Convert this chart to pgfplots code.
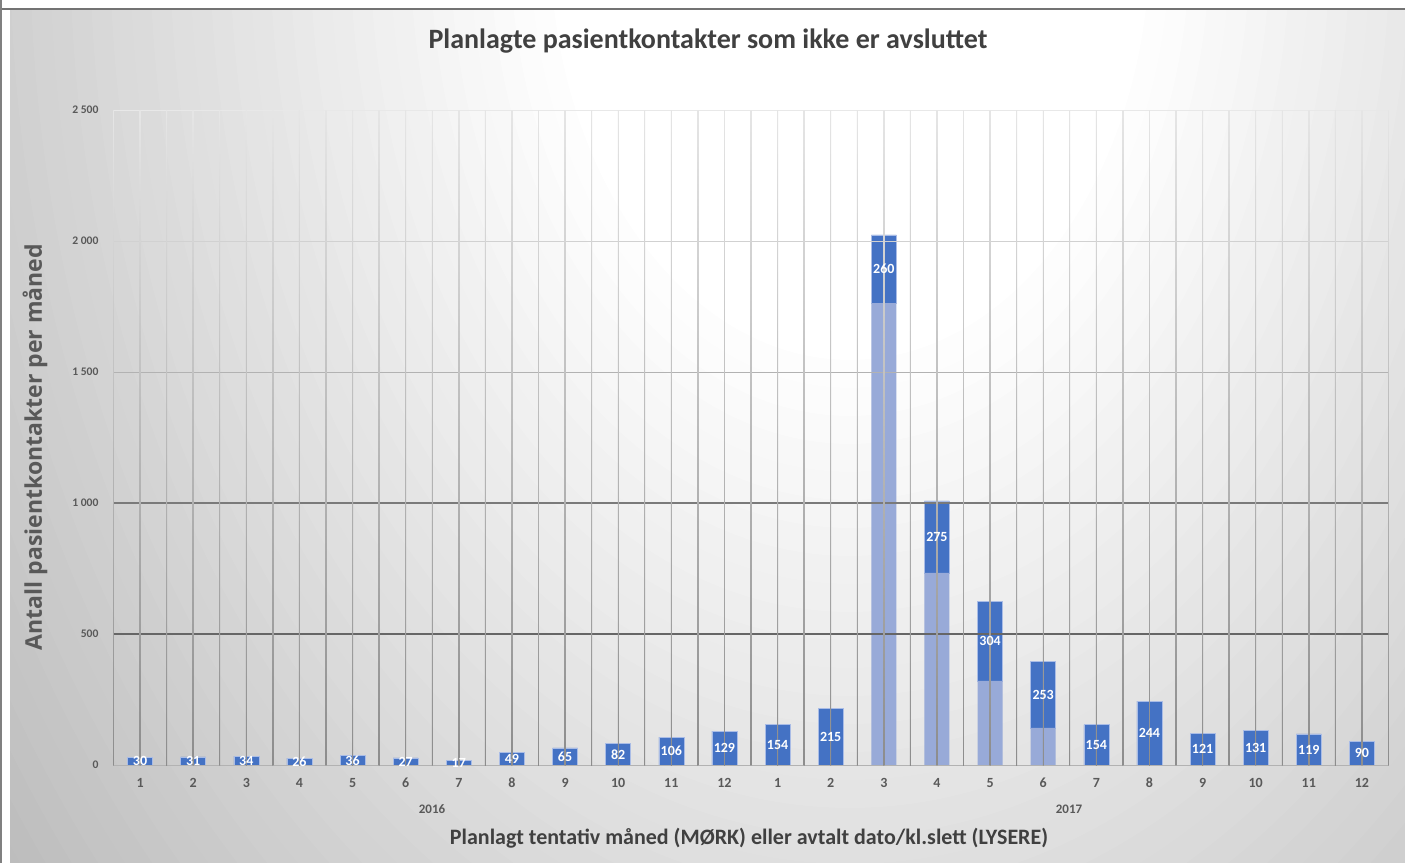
\documentclass[border=0pt]{standalone}
\usepackage{fontspec}
\setmainfont{Carlito}
\newfontfamily\ylabfont{Open Sans}
\usepackage{pgfplots}
\usepackage{pgfplotstable}
\pgfplotsset{compat=1.18}
\definecolor{darkbar}{HTML}{4472C4}
\definecolor{lightbar}{HTML}{98AAD8}
\definecolor{baredge}{HTML}{A9BCE6}
\definecolor{txt}{HTML}{404040}
\definecolor{tickc}{HTML}{595959}

\pgfplotstableread{
x light dark
0 0 30
1 0 31
2 0 34
3 0 26
4 0 36
5 0 27
6 0 17
7 0 49
8 0 65
9 0 82
10 0 106
11 0 129
12 0 154
13 0 215
14 1763 260
15 733 275
16 321 304
17 142 253
18 0 154
19 0 244
20 0 121
21 0 131
22 0 119
23 0 90
}\data

\begin{document}
\begin{tikzpicture}[x=0.5pt,y=-0.5pt]
\useasboundingbox (0,0) rectangle (1405,863);
\fill[white] (0,0) rectangle (1405,863);
\begin{scope}
\clip (10,10) rectangle (1405,863);
\fill[black!27] (10,10) rectangle (1405,863);
\foreach \i in {0,...,40} {
  \pgfmathsetmacro\r{1100-20*\i}
  \pgfmathsetmacro\g{max(0,min(27,(\r-300)/30))}
  \pgfmathsetmacro\rx{\r*0.5}
  \pgfmathsetmacro\ry{\r*0.7}
  \fill[black!\g] (850,-60) ellipse [x radius=\rx pt, y radius=\ry pt];
}
\end{scope}
\fill[black!50] (0,0) rectangle (2,863);
\fill[black!55] (2,7.5) rectangle (1405,9.5);

\coordinate (orig) at (113.5,765);

\begin{axis}[
  at={(orig)}, anchor=south west,
  scale only axis, width=637.5pt, height=327.5pt,
  xmin=-0.5, xmax=23.5, ymin=0, ymax=2500,
  axis line style={draw=none},
  major tick length=0pt,
  ybar stacked, bar width=12.5pt,
  xtick={0,...,23},
  xticklabels={1,2,3,4,5,6,7,8,9,10,11,12,1,2,3,4,5,6,7,8,9,10,11,12},
  xticklabel style={font=\bfseries\fontsize{7}{8}\selectfont, text=tickc, yshift=-3pt},
  ytick={0,500,1000,1500,2000,2500},
  yticklabel style={font=\bfseries\fontsize{5.8}{7}\selectfont, text=tickc, xshift=-4pt},
  /pgf/number format/.cd, assume math mode=true, 1000 sep={\ },
]
\pgfplotsinvokeforeach{-0.5,0,...,23.5}{
  \shade[bottom color=black!45, top color=black!10] ([xshift=-0.22pt]axis cs:#1,0) rectangle ([xshift=0.22pt]axis cs:#1,2500);
}
\draw[black!30, line width=0.45pt] (axis cs:-0.5,0) -- (axis cs:23.5,0);
\draw[black!60, line width=0.55pt] (axis cs:-0.5,500) -- (axis cs:23.5,500);
\draw[black!52, line width=0.55pt] (axis cs:-0.5,1000) -- (axis cs:23.5,1000);
\draw[black!30, line width=0.45pt] (axis cs:-0.5,1500) -- (axis cs:23.5,1500);
\draw[black!18, line width=0.45pt] (axis cs:-0.5,2000) -- (axis cs:23.5,2000);
\draw[black!9, line width=0.45pt] (axis cs:-0.5,2500) -- (axis cs:23.5,2500);
\addplot[fill=lightbar, draw=none] table[x=x,y=light]{\data};
\addplot[fill=darkbar, draw=baredge, line width=0.3pt] table[x=x,y=dark]{\data};
\pgfplotsinvokeforeach{0,...,23}{
  \draw[black, opacity=0.18, line width=0.4pt] (axis cs:#1,0) -- (axis cs:#1,2500);
}
\end{axis}

\begin{axis}[
  at={(orig)}, anchor=south west,
  scale only axis, width=637.5pt, height=327.5pt,
  xmin=-0.5, xmax=23.5, ymin=0, ymax=2500,
  hide axis, clip=false,
  /pgf/number format/assume math mode=true,
]
\addplot[only marks, mark=*, mark size=0pt, mark options={draw=none, fill=none},
  nodes near coords, point meta=explicit,
  nodes near coords style={anchor=center, inner sep=0pt, font=\bfseries\fontsize{7}{8}\selectfont, text=white}]
  table[x=x, y expr=\thisrow{light}+0.5*\thisrow{dark}, meta=dark]{\data};
\end{axis}

\node[font=\bfseries\fontsize{14}{16}\selectfont, text=txt] at (708,41) {Planlagte pasientkontakter som ikke er avsluttet};
\node[rotate=90, font=\ylabfont\bfseries\fontsize{11.5}{14}\selectfont, text=tickc] at (35,447) {Antall pasientkontakter per måned};
\node[font=\bfseries\fontsize{11}{13}\selectfont, text=txt] at (749,838) {Planlagt tentativ måned (MØRK) eller avtalt dato/kl.slett (LYSERE)};
\node[font=\bfseries\fontsize{6.5}{8}\selectfont, text=tickc] at (432,809) {2016};
\node[font=\bfseries\fontsize{6.5}{8}\selectfont, text=tickc] at (1069,809) {2017};
\end{tikzpicture}
\end{document}
